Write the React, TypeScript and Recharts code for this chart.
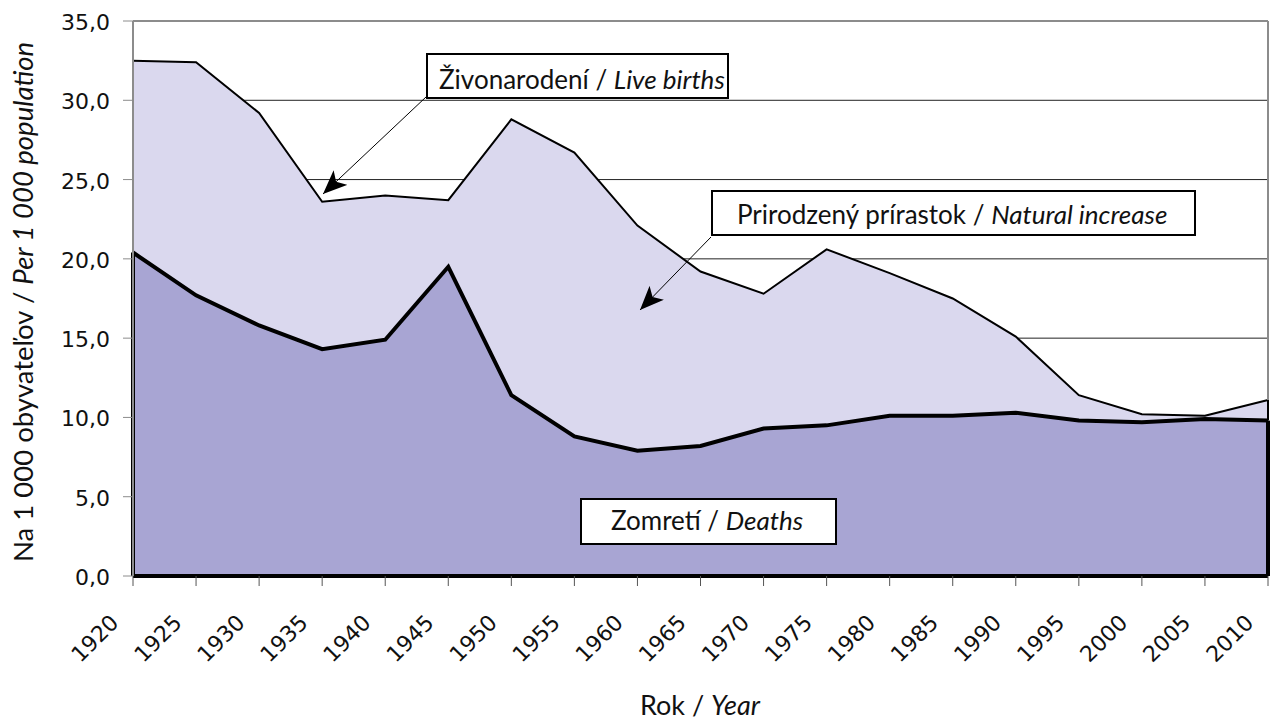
import React from "react";
import { Area, CartesianGrid, ComposedChart, ReferenceLine, XAxis, YAxis } from "recharts";

// Slovakia, per 1 000 population
const YEARS = [1920, 1925, 1930, 1935, 1940, 1945, 1950, 1955, 1960, 1965, 1970, 1975, 1980, 1985, 1990, 1995, 2000, 2005, 2010];
const LIVE_BIRTHS = [32.5, 32.4, 29.2, 23.6, 24.0, 23.7, 28.8, 26.7, 22.1, 19.2, 17.8, 20.6, 19.1, 17.5, 15.1, 11.4, 10.2, 10.1, 11.1];
const DEATHS = [20.4, 17.7, 15.8, 14.3, 14.9, 19.5, 11.4, 8.8, 7.9, 8.2, 9.3, 9.5, 10.1, 10.1, 10.3, 9.8, 9.7, 9.9, 9.8];
const Y_TICKS = [0, 5, 10, 15, 20, 25, 30, 35];

const FONT = "Lato, 'Open Sans', sans-serif";
const NUM_FONT = "'DejaVu Sans', 'Noto Sans', sans-serif";
const BIRTHS_FILL = "#dad8ee";
const DEATHS_FILL = "#a8a5d3";
const GRID = "#8c8c8c";

const data = YEARS.map((year, i) => ({ year, births: LIVE_BIRTHS[i], deaths: DEATHS[i] }));

const fmt = (v: number) => v.toFixed(1).replace(".", ",");

function YearTick(props: any) {
  const { x, y, payload } = props;
  const ax = x - 13;
  return (
    <text
      x={ax}
      y={y}
      transform={`rotate(-45 ${ax} ${y})`}
      textAnchor="end"
      fontFamily={NUM_FONT}
      fontSize={22}
      fill="#111"
    >
      {payload.value}
    </text>
  );
}

function ValueTick(props: any) {
  const { x, y, payload } = props;
  return (
    <text x={x} y={y + 9} textAnchor="end" fontFamily={NUM_FONT} fontSize={22} fill="#111">
      {fmt(payload.value)}
    </text>
  );
}

const first = 0;
const last = YEARS.length - 1;

export default function App() {
  return (
    <div style={{ position: "absolute", left: 0, top: 0, width: 1270, height: 720, background: "#fff" }}>
      <ComposedChart width={1270} height={720} data={data} margin={{ top: 21, right: 2, bottom: 0, left: 0 }}>
        <CartesianGrid vertical={false} stroke="#222" strokeWidth={1} />
        <XAxis
          dataKey="year"
          type="number"
          domain={[1920, 2010]}
          ticks={YEARS}
          interval={0}
          height={144}
          axisLine={false}
          tickLine={{ stroke: "#555" }}
          tickSize={10}
          tickMargin={38}
          tick={<YearTick />}
        />
        <YAxis
          domain={[0, 35]}
          ticks={Y_TICKS}
          width={133}
          axisLine={{ stroke: GRID, strokeWidth: 2 }}
          tickLine={{ stroke: GRID }}
          tickSize={10}
          tickMargin={13}
          tick={<ValueTick />}
        />
        <Area
          type="linear"
          dataKey="births"
          fill={BIRTHS_FILL}
          fillOpacity={1}
          stroke="#000"
          strokeWidth={2}
          isAnimationActive={false}
        />
        <Area
          type="linear"
          dataKey="deaths"
          fill={DEATHS_FILL}
          fillOpacity={1}
          stroke="#000"
          strokeWidth={4}
          isAnimationActive={false}
        />
        {/* plot frame: gray on top / right, black area outlines at the edges */}
        <ReferenceLine y={35} stroke={GRID} strokeWidth={2} />
        <ReferenceLine
          segment={[{ x: 2010, y: LIVE_BIRTHS[last] }, { x: 2010, y: 35 }]}
          stroke={GRID}
          strokeWidth={2}
        />
        <ReferenceLine
          segment={[{ x: 1920, y: DEATHS[first] }, { x: 1920, y: LIVE_BIRTHS[first] }]}
          stroke="#000"
          strokeWidth={2}
        />
        <ReferenceLine
          segment={[{ x: 2010, y: DEATHS[last] }, { x: 2010, y: LIVE_BIRTHS[last] }]}
          stroke="#000"
          strokeWidth={2}
        />
        <ReferenceLine segment={[{ x: 1920, y: 0 }, { x: 1920, y: DEATHS[first] }]} stroke="#000" strokeWidth={4} />
        <ReferenceLine segment={[{ x: 2010, y: 0 }, { x: 2010, y: DEATHS[last] }]} stroke="#000" strokeWidth={4} />
        <ReferenceLine y={0} stroke="#000" strokeWidth={4} />
      </ComposedChart>

      {/* axis titles and callouts */}
      <svg
        width={1270}
        height={720}
        style={{ position: "absolute", left: 0, top: 0, pointerEvents: "none" }}
        fontFamily={FONT}
        fontSize={26}
        fill="#111"
      >
        <defs>
          <marker
            id="stealth"
            viewBox="0 0 24 20"
            refX={24}
            refY={10}
            markerWidth={24}
            markerHeight={20}
            markerUnits="userSpaceOnUse"
            orient="auto"
          >
            <path d="M0,0 L24,10 L0,20 L6,10 Z" fill="#000" />
          </marker>
        </defs>

        <text transform="translate(33,302) rotate(-90)" textAnchor="middle" fontSize={27.5}>
          Na 1 000 obyvateľov / <tspan fontStyle="italic">Per 1 000 population</tspan>
        </text>
        <text x={700} y={715} textAnchor="middle" fontSize={27}>
          Rok / <tspan fontStyle="italic">Year</tspan>
        </text>

        <line x1={426} y1={97} x2={323} y2={194} stroke="#000" strokeWidth={1} markerEnd="url(#stealth)" />
        <rect x={427} y={54} width={301} height={44} fill="#fff" stroke="#000" strokeWidth={2} />
        <text x={439} y={89}>
          Živonarodení / <tspan fontStyle="italic">Live births</tspan>
        </text>

        <line x1={711} y1={237} x2={640} y2={310} stroke="#000" strokeWidth={1} markerEnd="url(#stealth)" />
        <rect x={712} y={191} width={483} height={44} fill="#fff" stroke="#000" strokeWidth={2} />
        <text x={737} y={224}>
          Prirodzený prírastok / <tspan fontStyle="italic">Natural increase</tspan>
        </text>

        <rect x={581} y={499} width={255} height={45} fill="#fff" stroke="#000" strokeWidth={2} />
        <text x={611} y={530}>
          Zomretí / <tspan fontStyle="italic">Deaths</tspan>
        </text>
      </svg>
    </div>
  );
}
